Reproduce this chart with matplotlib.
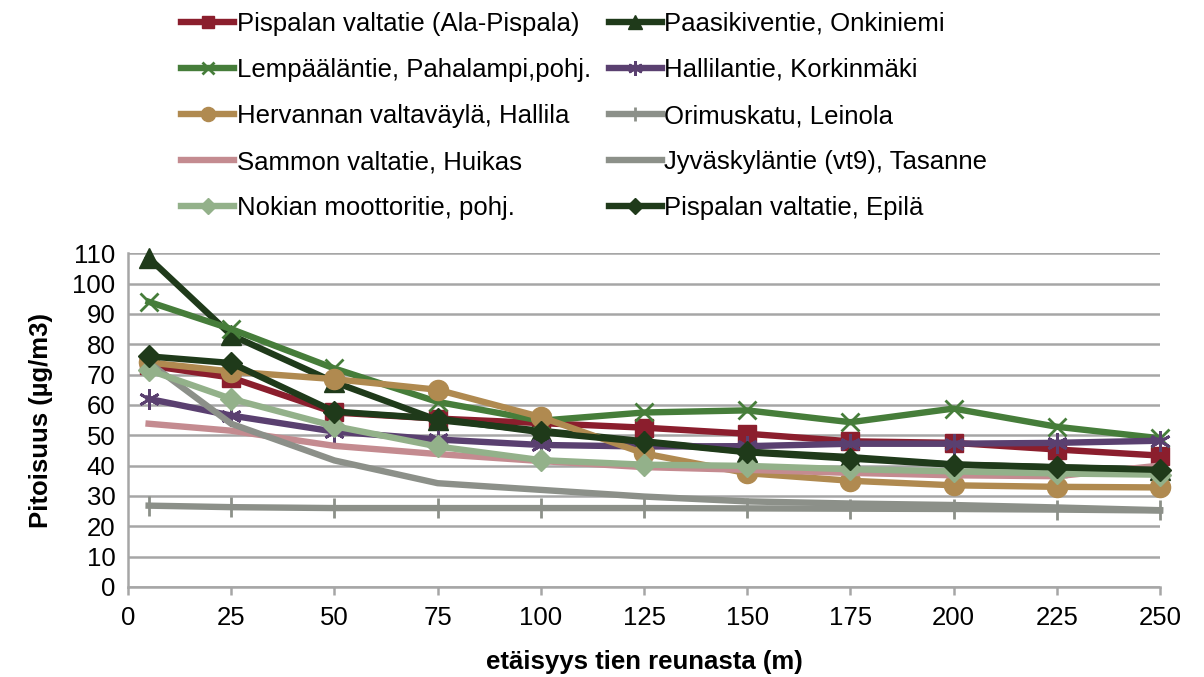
import matplotlib
matplotlib.use("Agg")
import matplotlib.pyplot as plt

plt.rcParams['font.family'] = ['Liberation Sans', 'DejaVu Sans']

x = [5, 25, 50, 75, 100, 125, 150, 175, 200, 225, 250]

pispala_ala = [73, 69, 57.5, 55.5, 54, 52.5, 50.5, 48, 47.5, 45.3, 43.3]
paasikivi = [108.5, 83, 67.5, 55, 51.5, 48, 44.6, 42.8, 40.4, 39.5, 38.7]
lempaala = [94, 85, 72, 61, 54.8, 57.5, 58.2, 54.3, 58.8, 52.8, 49]
hallila = [62, 56.5, 51.2, 48.6, 46.8, 46.3, 46.4, 47.2, 47.2, 47.5, 48.2]
hervanta = [74, 71, 68.5, 65, 56, 44, 37.5, 35, 33.5, 33, 32.8]
orimus = [26.8, 26.3, 26, 26, 26, 26, 25.9, 25.8, 25.7, 25.5, 25.2]
sammon = [53.8, 51.5, 46.5, 43.8, 41.5, 39.5, 38.6, 37.6, 36.8, 36.5, 40]
jyvaskyla = [74, 53.8, 41.7, 34.2, 32, 29.8, 28.2, 27.5, 27, 26.2, 25.3]
nokia = [71.5, 62, 53, 46.3, 41.8, 40.3, 39.9, 38.8, 38.1, 37.4, 37]
epila = [76, 73.8, 57.8, 55.5, 51, 47.8, 44.4, 42.3, 40.3, 39.4, 38.6]

labels = [
    "Pispalan valtatie (Ala-Pispala)",
    "Paasikiventie, Onkiniemi",
    "Lempääläntie, Pahalampi,pohj.",
    "Hallilantie, Korkinmäki",
    "Hervannan valtaväylä, Hallila",
    "Orimuskatu, Leinola",
    "Sammon valtatie, Huikas",
    "Jyväskyläntie (vt9), Tasanne",
    "Nokian moottoritie, pohj.",
    "Pispalan valtatie, Epilä",
]
series = [pispala_ala, paasikivi, lempaala, hallila, hervanta,
          orimus, sammon, jyvaskyla, nokia, epila]

styles = [
    dict(color="#8B1E2D", marker="s", ms=13),
    dict(color="#1F3A1A", marker="^", ms=14),
    dict(color="#467D3A", marker="x", ms=13, mew=2),
    dict(color="#5A4070", marker=(6, 2, 0), ms=15, mew=2),
    dict(color="#B08A50", marker="o", ms=14.5),
    dict(color="#8C9089", marker="|", ms=14, mew=2),
    dict(color="#C48B90", marker=None, ms=0),
    dict(color="#8C9089", marker=None, ms=0),
    dict(color="#93B18A", marker="D", ms=11),
    dict(color="#1F3A1A", marker="D", ms=11),
]

fig = plt.figure(figsize=(12.04, 6.77), dpi=100)
ax = fig.add_axes([0.1063, 0.133, 0.8572, 0.493])

handles = []
for vals, lab, st in zip(series, labels, styles):
    ln, = ax.plot(x, vals, color=st["color"], lw=4.6, marker=st["marker"],
                  markersize=st["ms"], mew=st.get("mew", 1),
                  markeredgecolor=st["color"], markerfacecolor=st["color"],
                  label=lab, clip_on=False, solid_joinstyle="round")
    handles.append(ln)

ax.set_xlim(0, 250)
ax.set_ylim(0, 110)
ax.set_xticks(range(0, 251, 25))
ax.set_yticks(range(0, 111, 10))
ax.grid(axis="y", color="#A6A6A6", lw=1.8)
ax.set_axisbelow(True)
for s in ["top", "right"]:
    ax.spines[s].set_visible(False)
for s in ["left", "bottom"]:
    ax.spines[s].set_color("#A6A6A6")
    ax.spines[s].set_linewidth(1.8)
ax.tick_params(axis="y", length=0, labelsize=18.5, pad=9)
ax.tick_params(axis="x", length=6, width=1.8, color="#A6A6A6", labelsize=18.5, pad=8)

ax.set_xlabel("etäisyys tien reunasta (m)", fontsize=18.5, fontweight="bold", labelpad=14)
ax.set_ylabel("Pitoisuus (µg/m3)", fontsize=18.5, fontweight="bold", labelpad=14)

order = [0, 2, 4, 6, 8, 1, 3, 5, 7, 9]
leg = fig.legend([handles[i] for i in order], [labels[i] for i in order],
                 loc="upper left", bbox_to_anchor=(0.1358, 1.009), ncol=2,
                 frameon=False, fontsize=18.5, handlelength=2.05,
                 handletextpad=0.1, columnspacing=0.7, labelspacing=0.86,
                 borderpad=0.2, markerscale=0.7)

fig.savefig("out.png", dpi=100)
